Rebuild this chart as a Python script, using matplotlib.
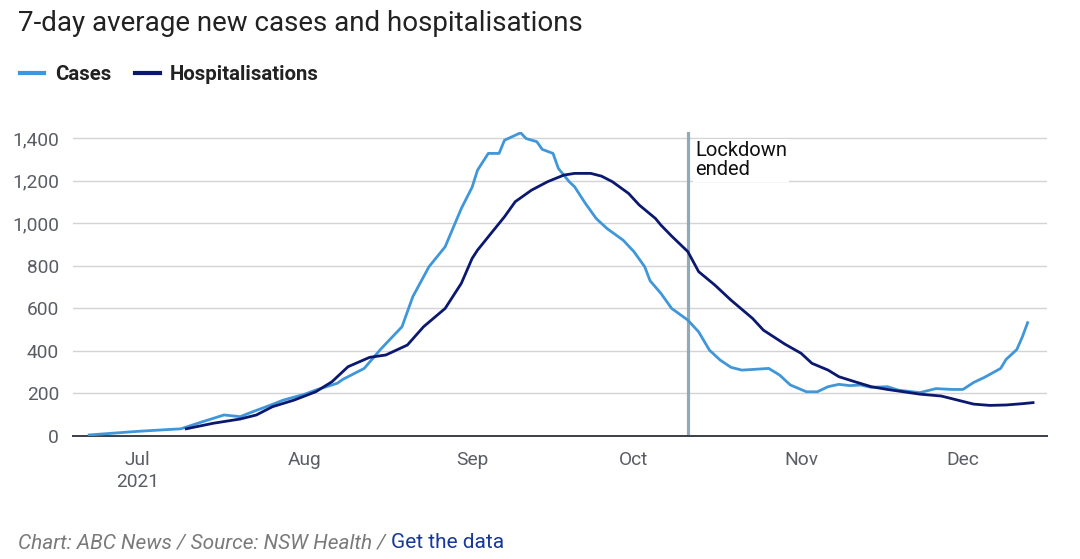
import pandas as pd
import matplotlib
matplotlib.use("Agg")
from matplotlib import pyplot as plt
from matplotlib.ticker import FuncFormatter

# 7-day averages, NSW
case_dates = ["2021-06-22", "2021-07-01", "2021-07-09", "2021-07-13", "2021-07-17", "2021-07-20",
              "2021-07-22", "2021-07-26", "2021-07-28", "2021-08-01", "2021-08-03", "2021-08-07",
              "2021-08-08", "2021-08-12", "2021-08-15", "2021-08-19", "2021-08-21", "2021-08-24",
              "2021-08-27", "2021-08-30", "2021-09-01", "2021-09-02", "2021-09-04", "2021-09-06",
              "2021-09-07", "2021-09-10", "2021-09-11", "2021-09-13", "2021-09-14", "2021-09-16",
              "2021-09-17", "2021-09-19", "2021-09-20", "2021-09-22", "2021-09-24", "2021-09-26",
              "2021-09-29", "2021-10-01", "2021-10-03", "2021-10-04", "2021-10-06", "2021-10-08",
              "2021-10-11", "2021-10-13", "2021-10-15", "2021-10-17", "2021-10-19", "2021-10-21",
              "2021-10-23", "2021-10-26", "2021-10-28", "2021-10-30", "2021-11-02", "2021-11-04",
              "2021-11-06", "2021-11-08", "2021-11-10", "2021-11-12", "2021-11-14", "2021-11-17",
              "2021-11-19", "2021-11-23", "2021-11-26", "2021-11-29", "2021-12-01", "2021-12-03",
              "2021-12-05", "2021-12-08", "2021-12-09", "2021-12-11", "2021-12-12", "2021-12-13"]
cases = [5, 22, 34, 67, 99, 91,
         111, 149, 169, 197, 216, 248,
         266, 318, 407, 514, 655, 796,
         890, 1070, 1170, 1250, 1329, 1329,
         1391, 1426, 1399, 1384, 1348, 1329,
         1258, 1196, 1172, 1094, 1023, 976,
         921, 867, 796, 730, 671, 600,
         545, 490, 404, 357, 323, 310,
         313, 318, 287, 240, 208, 208,
         232, 243, 237, 240, 229, 232,
         216, 204, 223, 219, 219, 252,
         276, 318, 360, 407, 465, 533]

hosp_dates = ["2021-07-10", "2021-07-15", "2021-07-20", "2021-07-23", "2021-07-26", "2021-07-30",
              "2021-08-03", "2021-08-06", "2021-08-09", "2021-08-13", "2021-08-16", "2021-08-20",
              "2021-08-23", "2021-08-27", "2021-08-30", "2021-09-01", "2021-09-02", "2021-09-04",
              "2021-09-07", "2021-09-09", "2021-09-12", "2021-09-15", "2021-09-18", "2021-09-20",
              "2021-09-23", "2021-09-25", "2021-09-27", "2021-09-30", "2021-10-02", "2021-10-05",
              "2021-10-06", "2021-10-08", "2021-10-11", "2021-10-13", "2021-10-16", "2021-10-19",
              "2021-10-23", "2021-10-25", "2021-10-29", "2021-11-01", "2021-11-03", "2021-11-06",
              "2021-11-08", "2021-11-11", "2021-11-14", "2021-11-17", "2021-11-20", "2021-11-23",
              "2021-11-27", "2021-11-30", "2021-12-03", "2021-12-06", "2021-12-09", "2021-12-12",
              "2021-12-14"]
hosp = [34, 60, 80, 99, 138, 169,
        208, 255, 326, 370, 381, 428,
        514, 600, 718, 835, 874, 937,
        1031, 1102, 1156, 1196, 1227, 1235,
        1235, 1222, 1196, 1141, 1086, 1023,
        992, 940, 867, 773, 710, 639,
        553, 498, 432, 389, 342, 310,
        279, 255, 232, 219, 208, 197,
        188, 169, 150, 144, 146, 152,
        157]

lockdown_end = "2021-10-11"
month_ticks = ["2021-07-01", "2021-08-01", "2021-09-01", "2021-10-01", "2021-11-01", "2021-12-01"]
month_labels = ["Jul\n2021", "Aug", "Sep", "Oct", "Nov", "Dec"]
y_ticks = [0, 200, 400, 600, 800, 1000, 1200, 1400]

CASES_COL = "#3f97da"
HOSP_COL = "#0b1870"
GREY = "#5b5d66"

plt.rcParams["font.family"] = ["Roboto", "DejaVu Sans"]

fig = plt.figure(figsize=(10.8, 5.59), dpi=100)
ax = fig.add_axes([0.0676, 0.22, 0.9018, 0.544])

ax.plot(pd.to_datetime(case_dates), cases, color=CASES_COL, lw=2.0, label="Cases", zorder=3)
ax.plot(pd.to_datetime(hosp_dates), hosp, color=HOSP_COL, lw=2.0, label="Hospitalisations", zorder=4)

# lockdown marker
ax.axvline(pd.Timestamp(lockdown_end), color="#8fabb8", lw=2.3, zorder=2)
ax.text(pd.Timestamp(lockdown_end) + pd.Timedelta(days=1.4), 1385, "Lockdown\nended",
        fontsize=14.5, color="#111111", va="top", ha="left", linespacing=1.0,
        bbox=dict(facecolor="white", edgecolor="none", pad=1.5), zorder=5)

ax.set_xlim(pd.Timestamp("2021-06-19"), pd.Timestamp("2021-12-16 14:00"))
ax.set_ylim(0, 1430)
ax.set_yticks(y_ticks)
ax.yaxis.set_major_formatter(FuncFormatter(lambda v, p: f"{int(v):,}"))
ax.set_xticks(pd.to_datetime(month_ticks))
ax.set_xticklabels(month_labels, linespacing=1.25)

ax.grid(axis="y", color="#d3d3d6", lw=1.0)
ax.set_axisbelow(True)
for s in ["top", "right", "left"]:
    ax.spines[s].set_visible(False)
ax.spines["bottom"].set_color("#3a3f47")
ax.spines["bottom"].set_linewidth(1.4)
ax.tick_params(axis="both", length=0, labelsize=13.8, labelcolor=GREY)
ax.tick_params(axis="x", pad=11)
ax.tick_params(axis="y", pad=10)

fig.text(0.0167, 0.982, "7-day average new cases and hospitalisations",
         fontsize=20, color="#222222", va="top", ha="left")

leg = fig.legend(loc="center left", bbox_to_anchor=(0.0015, 0.866), ncol=2, frameon=False,
                 handlelength=1.2, handletextpad=0.5, columnspacing=1.2,
                 prop={"weight": "bold", "size": 14.7})
for t in leg.get_texts():
    t.set_color("#222222")
for h in leg.get_lines():
    h.set_linewidth(3)

# footer
t1 = fig.text(0.0167, 0.012, "Chart: ABC News / Source: NSW Health / ",
              fontsize=15, style="italic", color="#7a7a7a", va="bottom", ha="left")
ax.annotate("Get the data", xy=(1, 0), xycoords=t1, va="bottom", ha="left",
            fontsize=15, color="#17389a", annotation_clip=False)

fig.savefig("out.png", dpi=100, facecolor="white")
